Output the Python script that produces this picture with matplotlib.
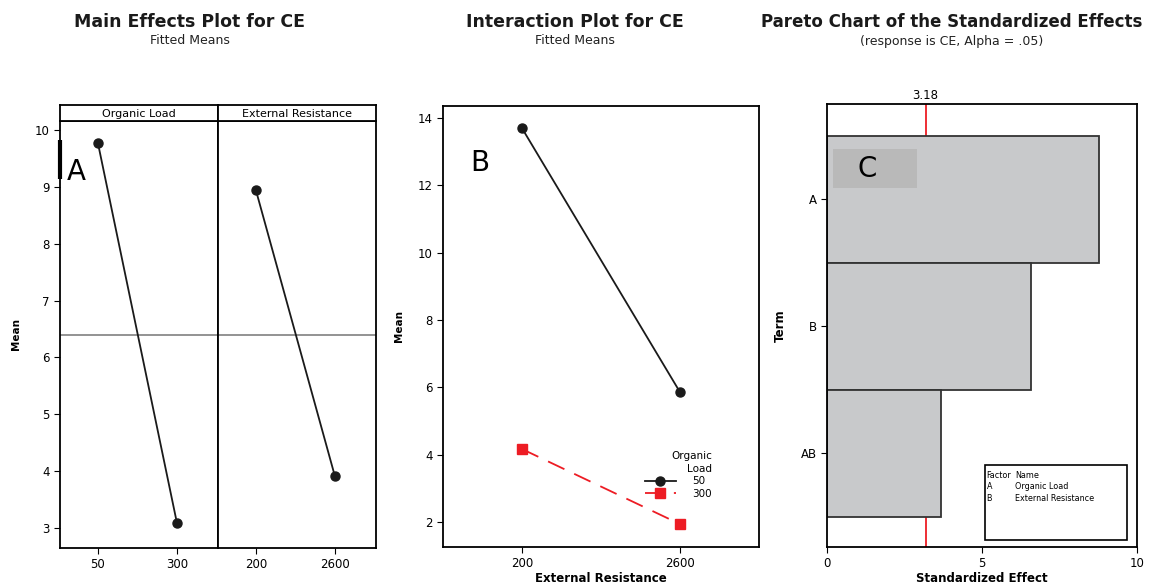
import matplotlib
matplotlib.use('Agg')
import matplotlib.pyplot as plt
from matplotlib.patches import Rectangle

# main effects
organic_levels = ['50', '300']
organic_means = [9.77, 3.09]
resistance_levels = ['200', '2600']
resistance_means = [8.94, 3.91]
grand_mean = 6.40

# interaction
ext_levels = ['200', '2600']
load_50 = [13.70, 5.86]
load_300 = [4.17, 1.94]

# pareto
terms = ['A', 'B', 'AB']
effects = [8.77, 6.58, 3.68]
critical = 3.18
factor_rows = [('Factor', 'Name'), ('A', 'Organic Load'), ('B', 'External Resistance')]

RED = '#ed1c24'
plt.rcParams['font.family'] = 'DejaVu Sans'
plt.rcParams['axes.linewidth'] = 1.3
plt.rcParams['xtick.labelsize'] = 8.5
plt.rcParams['ytick.labelsize'] = 8.5
plt.rcParams['xtick.major.size'] = 4
plt.rcParams['ytick.major.size'] = 4

fig = plt.figure(figsize=(11.53, 5.85), dpi=100)
W, H = 1153, 585


def px_axes(x0, y0, x1, y1):
    return fig.add_axes([x0 / W, (H - y1) / H, (x1 - x0) / W, (y1 - y0) / H])


def titles(xc, title, sub, size=12.5):
    fig.text(xc / W, 1 - 22 / H, title, ha='center', va='center',
             fontsize=size, fontweight='bold', color='#1a1a1a')
    fig.text(xc / W, 1 - 41 / H, sub, ha='center', va='center', fontsize=9,
             color='#222222')


# ---------- Panel A: main effects ----------
titles(190, 'Main Effects Plot for CE', 'Fitted Means')

panels = [('Organic Load', organic_levels, organic_means),
          ('External Resistance', resistance_levels, resistance_means)]
xs = [(60, 218), (218, 376)]
for i, (name, levels, means) in enumerate(panels):
    x0, x1 = xs[i]
    ax = px_axes(x0, 121, x1, 548)
    ax.plot(range(len(levels)), means, color='#1a1a1a', lw=1.3, marker='o',
            markersize=6.5, zorder=3)
    ax.axhline(grand_mean, color='#808080', lw=1.2)
    ax.set_xlim(-0.48, 1.52)
    ax.set_ylim(2.648, 10.158)
    ax.set_xticks(range(len(levels)))
    ax.set_xticklabels(levels)
    if i == 0:
        ax.set_yticks(range(3, 11))
        ax.set_ylabel('Mean', fontsize=7.5, fontweight='bold', labelpad=10)
        ax.text(0.04, 0.88, 'A', transform=ax.transAxes, fontsize=20, va='center')
        ax.plot([0, 0], [0.865, 0.955], transform=ax.transAxes, color='black',
                lw=3, clip_on=False, solid_capstyle='butt')
    else:
        ax.set_yticks([])
    strip = px_axes(x0, 105, x1, 121)
    strip.set_xticks([])
    strip.set_yticks([])
    strip.text(0.5, 0.45, name, ha='center', va='center', fontsize=8,
               transform=strip.transAxes)

# ---------- Panel B: interaction ----------
titles(575, 'Interaction Plot for CE', 'Fitted Means')

ax2 = px_axes(443, 106, 759, 547)
ax2.plot(range(len(ext_levels)), load_50, color='#1a1a1a', lw=1.3, marker='o',
         markersize=6.5, label='50', zorder=3)
ax2.plot(range(len(ext_levels)), load_300, color=RED, lw=1.3, marker='s',
         markersize=6.5, dashes=(10, 6), label='300', zorder=3)
ax2.set_xlim(-0.5, 1.5)
ax2.set_ylim(1.26, 14.36)
ax2.set_xticks(range(len(ext_levels)))
ax2.set_xticklabels(ext_levels)
ax2.set_yticks([2, 4, 6, 8, 10, 12, 14])
ax2.set_xlabel('External Resistance', fontsize=8.5, fontweight='bold', labelpad=1)
ax2.set_ylabel('Mean', fontsize=7.5, fontweight='bold', labelpad=10)
ax2.text(0.085, 0.87, 'B', transform=ax2.transAxes, fontsize=20, va='center')
leg = ax2.legend(title='Organic\nLoad', loc='upper right', bbox_to_anchor=(0.875, 0.235),
                 frameon=False, fontsize=7.5, title_fontsize=7.5, handlelength=3.0,
                 alignment='right', borderpad=0.2, labelspacing=0.25, handletextpad=1.6)
leg.get_title().set_ha('right')
leg.get_title().set_linespacing(1.4)

# ---------- Panel C: pareto ----------
titles(952, 'Pareto Chart of the Standardized Effects', '(response is CE, Alpha = .05)',
       size=12)

ax3 = px_axes(827, 104, 1137, 547)
ax3.barh(range(len(terms)), effects, height=1.0, color='#c8c9cb', edgecolor='#333333',
         lw=1.3, zorder=2)
ax3.axvline(critical, color=RED, lw=1.3, zorder=1)
ax3.set_xlim(0, 10)
ax3.set_ylim(2.74, -0.75)
ax3.set_yticks(range(len(terms)))
ax3.set_yticklabels(terms)
ax3.set_xticks([0, 5, 10])
ax3.set_xlabel('Standardized Effect', fontsize=8.5, fontweight='bold', labelpad=1)
ax3.set_ylabel('Term', fontsize=8.5, fontweight='bold', labelpad=10)
ax3.text(critical, 1.005, f'{critical:.2f}', transform=ax3.get_xaxis_transform(),
         ha='center', va='bottom', fontsize=8.5)
ax3.add_patch(Rectangle((0.02, 0.81), 0.27, 0.088, transform=ax3.transAxes,
                        color='#b9b9b9', zorder=3, lw=0))
ax3.text(0.13, 0.853, 'C', transform=ax3.transAxes, fontsize=20, va='center',
         ha='center', zorder=4)
ax3.add_patch(Rectangle((0.51, 0.016), 0.458, 0.169, transform=ax3.transAxes,
                        facecolor='white', edgecolor='black', lw=1.2, zorder=3))
for j, (a, b) in enumerate(factor_rows):
    y = 0.162 - j * 0.026
    ax3.text(0.515, y, a, transform=ax3.transAxes, fontsize=5.8, va='center', zorder=4)
    ax3.text(0.607, y, b, transform=ax3.transAxes, fontsize=5.8, va='center', zorder=4)

fig.savefig('out.png', dpi=100)
